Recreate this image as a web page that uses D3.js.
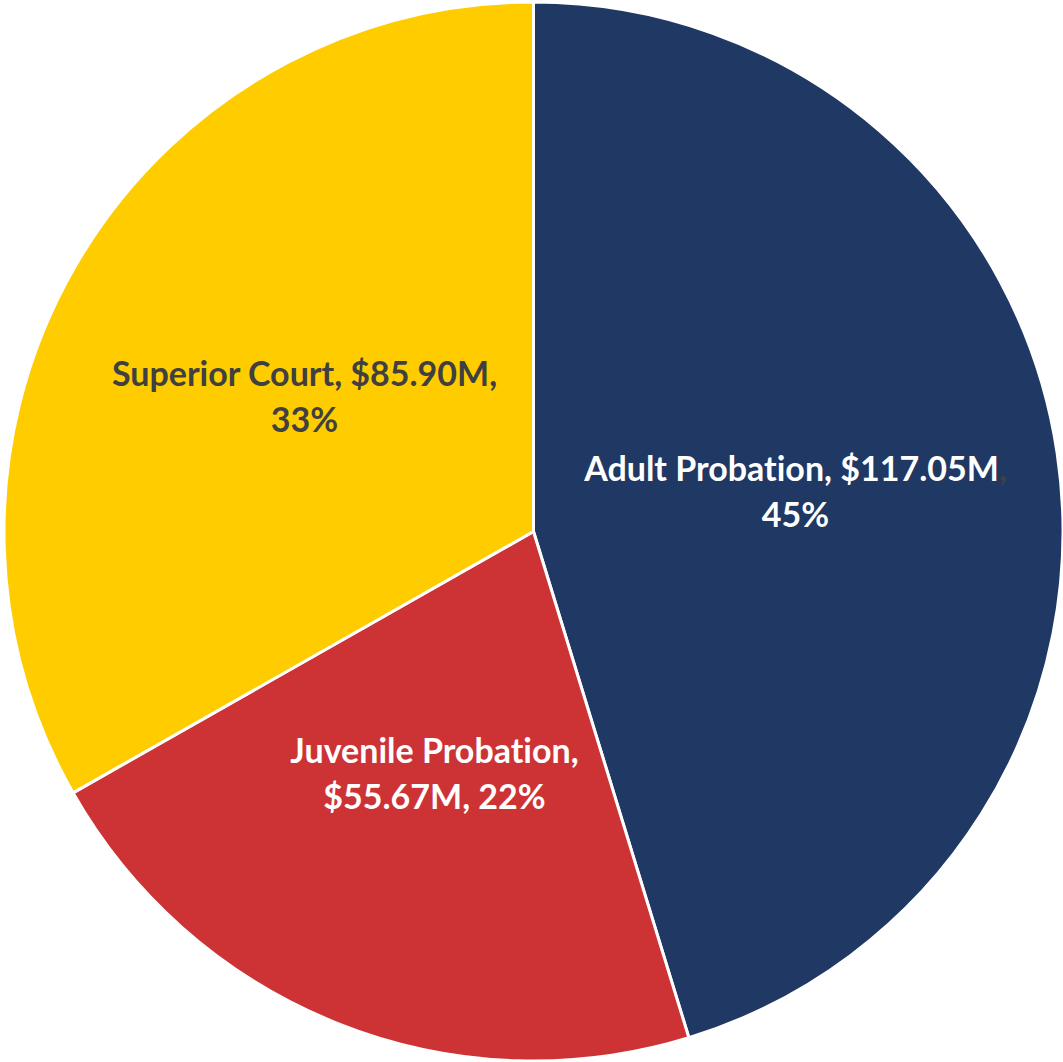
<!DOCTYPE html>
<html>
<head>
<meta charset="utf-8">
<script src="https://cdn.jsdelivr.net/npm/d3@7"></script>
<style>
  html, body { margin: 0; padding: 0; background: #ffffff; }
  svg { display: block; }
  text { font-family: Lato, "Open Sans", sans-serif; font-weight: 700; font-variant-ligatures: none; font-feature-settings: "liga" 0; }
</style>
</head>
<body>
<svg id="chart" width="1063" height="1062"></svg>
<script>
// Budget by department (millions of dollars)
const categories = ["Adult Probation", "Juvenile Probation", "Superior Court"];
const amounts = [117.05, 55.67, 85.90];
const percentLabels = ["45%", "22%", "33%"];
const colors = ["#203864", "#CD3335", "#FFCC00"];
const textColors = ["#ffffff", "#ffffff", "#404040"];

const width = 1063, height = 1062;
const cx = 533.5, cy = 531.5, radius = 529.5;

const svg = d3.select("#chart");
const g = svg.append("g").attr("transform", `translate(${cx},${cy})`);

const data = categories.map((c, i) => ({ name: c, value: amounts[i], pct: percentLabels[i], color: colors[i], text: textColors[i] }));

const pie = d3.pie().sort(null).value(d => d.value);
const arc = d3.arc().innerRadius(0).outerRadius(radius);
const arcs = pie(data);

g.selectAll("path.slice")
  .data(arcs)
  .join("path")
  .attr("class", "slice")
  .attr("d", arc)
  .attr("fill", d => d.data.color)
  .attr("stroke", "#ffffff")
  .attr("stroke-width", 3)
  .attr("stroke-linejoin", "round");

// Label lines for each slice (wrapped as data-label text)
const money = v => "$" + v.toFixed(2) + "M";
const labelLines = [
  [[categories[0] + ", " + money(amounts[0]), ","], [percentLabels[0]]],
  [[categories[1] + ","], [money(amounts[1]) + ", " + percentLabels[1]]],
  [[categories[2] + ", " + money(amounts[2]) + ","], [percentLabels[2]]]
];
// label anchor offsets from the pie center (first-line baseline)
const labelAnchor = [[262, -50.5], [-99, 231.5], [-229, -145.5]];
const lineHeight = 46;

arcs.forEach((a, i) => {
  const t = g.append("text")
    .attr("text-anchor", "middle")
    .attr("font-size", 34)
    .attr("fill", a.data.text);
  labelLines[i].forEach((parts, j) => {
    const ts = t.append("tspan")
      .attr("x", labelAnchor[i][0])
      .attr("y", labelAnchor[i][1] + j * lineHeight);
    ts.text(parts[0]);
    if (parts.length > 1) {
      // trailing separator rendered in the default dark label colour
      ts.append("tspan").attr("fill", "#404040").text(parts[1]);
    }
  });
});
</script>
</body>
</html>
